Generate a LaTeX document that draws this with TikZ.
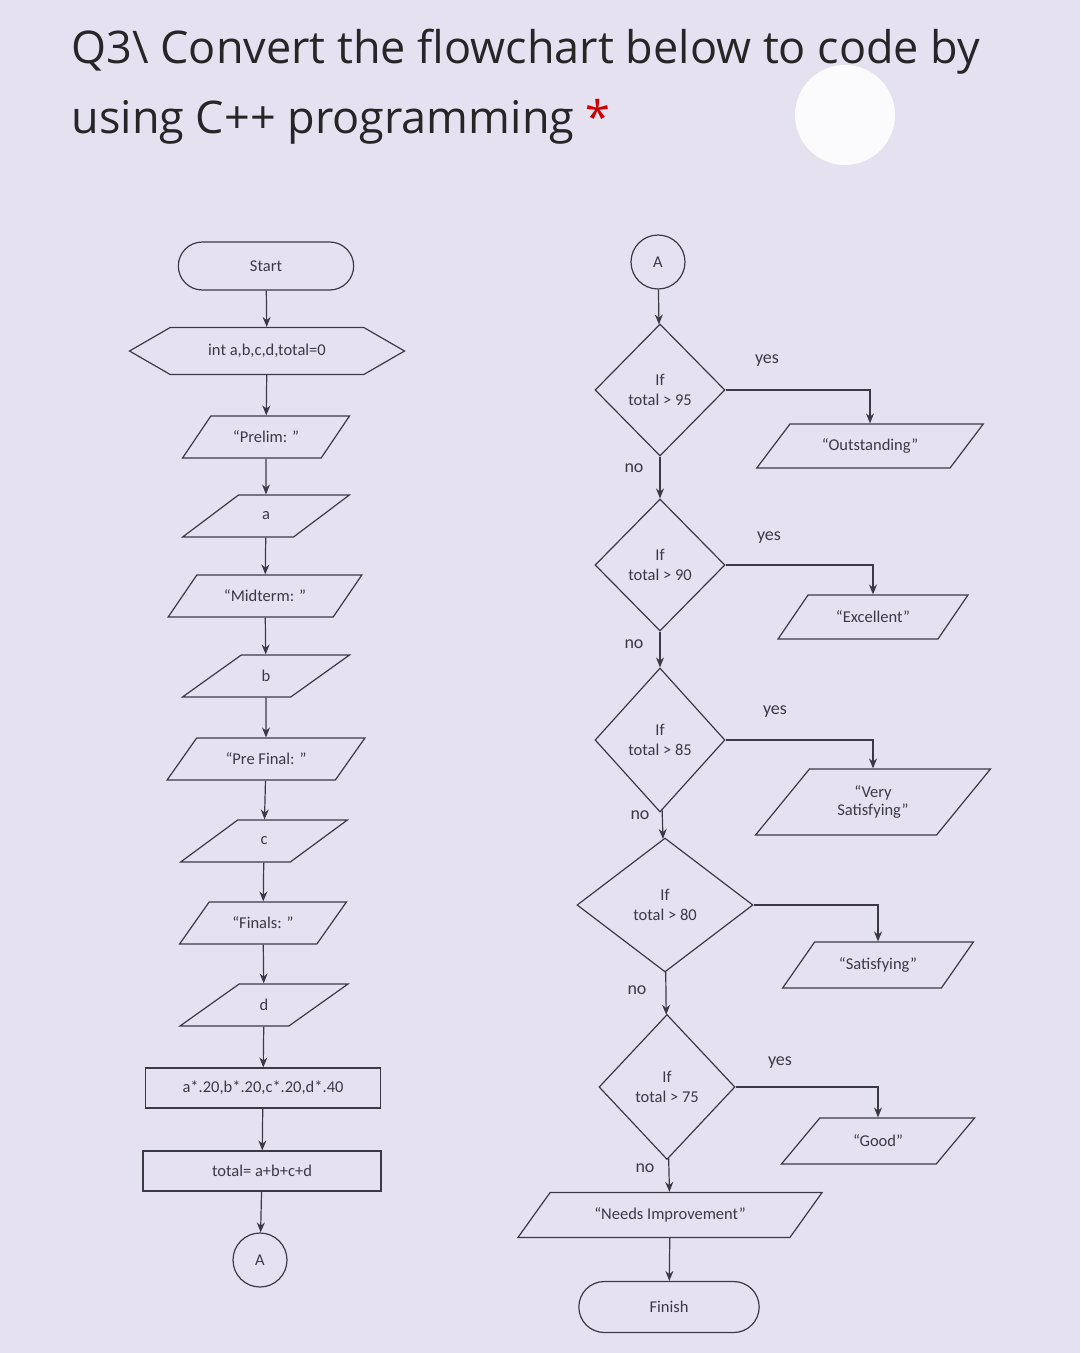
\documentclass[tikz,border=0pt]{standalone}
\usepackage{fontspec}
\setmainfont{Carlito}
\newfontfamily\titlefont{Open Sans}
\usetikzlibrary{shapes.geometric,shapes.symbols,shapes.misc,arrows.meta}
\definecolor{bg}{HTML}{E6E1F1}
\definecolor{ink}{HTML}{3A3A44}
\begin{document}
\begin{tikzpicture}[x=1pt,y=-1pt,
  every node/.style={text=ink,font=\fontsize{16.5}{18}\selectfont},
  ln/.style={draw=ink,line width=1.2pt},
  arr/.style={ln,-{Stealth[length=10pt,width=8pt]}},
  term/.style={ln,rounded rectangle,minimum width=182pt,minimum height=48pt},
  io/.style={ln,trapezium,trapezium left angle=45,trapezium right angle=135,trapezium stretches=true,minimum height=42pt,align=center},
  box/.style={ln,rectangle,minimum height=40pt},
  dec/.style={ln,diamond,inner sep=0pt,minimum width=130pt,minimum height=132pt,align=center},
  con/.style={ln,circle,minimum size=54pt,inner sep=0pt},
  lab/.style={font=\fontsize{18}{20}\selectfont}]
\fill[bg] (0,0) rectangle (1080,1353);
\fill[white,opacity=0.85] (845,115) circle (50);
\node[anchor=west,font=\titlefont\fontsize{45}{50}\selectfont,text=black!85] (t1) at (68,52) {Q3\textbackslash{} Convert the flowchart below to code by};
\node[anchor=west,font=\titlefont\fontsize{45}{50}\selectfont,text=black!85] (t2) at (68,122) {using C++ programming \textcolor{red!80!black}{*}};
% left column
\node[term] (start) at (266,266) {Start};
\node[ln,signal,signal to=west and east,signal pointer angle=60,minimum width=275pt,minimum height=47pt] (init) at (267,351) {int a,b,c,d,total=0};
\node[io,minimum width=167pt] (p1) at (266,437) {``Prelim: ''};
\node[io,minimum width=167pt] (ia) at (266,516) {a};
\node[io,minimum width=194pt] (p2) at (265,596) {``Midterm: ''};
\node[io,minimum width=167pt] (ib) at (266,676) {b};
\node[io,minimum width=198pt] (p3) at (266,759) {``Pre Final: ''};
\node[io,minimum width=167pt] (ic) at (264,841) {c};
\node[io,minimum width=167pt] (p4) at (263,923) {``Finals: ''};
\node[io,minimum width=168pt] (id) at (264,1005) {d};
\node[box,minimum width=235pt] (calc) at (263,1088) {a*.20,b*.20,c*.20,d*.40};
\node[box,minimum width=238pt] (tot) at (262,1171) {total= a+b+c+d};
\node[con] (a1) at (260,1260) {A};
\draw[arr] (start) -- (init);
\draw[arr] (init) -- (p1);
\draw[arr] (p1) -- (ia);
\draw[arr] (ia) -- (p2);
\draw[arr] (p2) -- (ib);
\draw[arr] (ib) -- (p3);
\draw[arr] (p3) -- (ic);
\draw[arr] (ic) -- (p4);
\draw[arr] (p4) -- (id);
\draw[arr] (id) -- (calc);
\draw[arr] (calc) -- (tot);
\draw[arr] (tot) -- (a1);
% right column
\node[con] (a2) at (658,262) {A};
\node[dec] (d1) at (660,390) {If\\[2pt]total > 95};
\node[dec] (d2) at (660,565) {If\\[2pt]total > 90};
\node[dec,minimum height=144pt] (d3) at (660,740) {If\\[2pt]total > 85};
\node[dec,minimum width=176pt,minimum height=134pt] (d4) at (665,905) {If\\[2pt]total > 80};
\node[dec,minimum width=136pt,minimum height=145pt] (d5) at (667,1087) {If\\[2pt]total > 75};
\node[io,minimum width=227pt,minimum height=44pt] (o1) at (870,446) {``Outstanding''};
\node[io,minimum width=190pt,minimum height=44pt] (o2) at (873,617) {``Excellent''};
\node[io,minimum width=235pt,minimum height=66pt,trapezium left angle=50,trapezium right angle=130] (o3) at (873,802) {``Very\\Satisfying''};
\node[io,minimum width=191pt,minimum height=46pt] (o4) at (878,965) {``Satisfying''};
\node[io,minimum width=194pt,minimum height=46pt] (o5) at (878,1141) {``Good''};
\node[io,minimum width=305pt,minimum height=45pt] (o6) at (670,1215) {``Needs Improvement''};
\node[term,minimum width=187pt,minimum height=51pt] (fin) at (669,1307) {Finish};
\draw[arr] (a2) -- (d1);
\draw[arr] (d1) -- (d2);
\draw[arr] (d2) -- (d3);
\draw[arr] (d3) -- (d4);
\draw[arr] (d4) -- (d5);
\draw[arr] (d5) -- (o6);
\draw[arr] (o6) -- (fin);
\draw[arr] (d1.east) -| (o1.north);
\draw[arr] (d2.east) -| (o2.north);
\draw[arr] (d3.east) -| (o3.north);
\draw[arr] (d4.east) -| (o4.north);
\draw[arr] (d5.east) -| (o5.north);
\node[lab] (y1) at (767,361) {yes};
\node[lab] (y2) at (769,538) {yes};
\node[lab] (y3) at (775,712) {yes};
\node[lab] (y5) at (780,1063) {yes};
\node[lab] (n1) at (634,468) {no};
\node[lab] (n2) at (634,644) {no};
\node[lab] (n3) at (640,815) {no};
\node[lab] (n4) at (637,990) {no};
\node[lab] (n5) at (645,1168) {no};
\end{tikzpicture}
\end{document}
